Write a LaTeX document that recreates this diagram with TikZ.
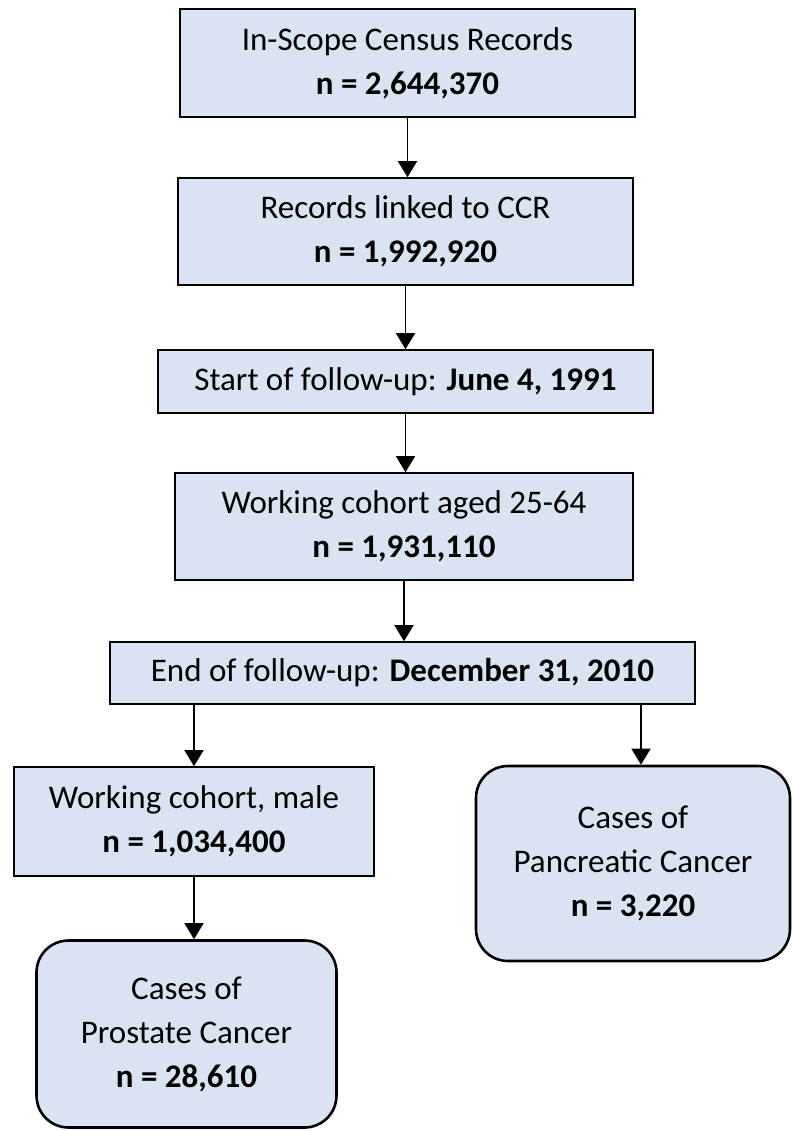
\documentclass[tikz,border=0pt]{standalone}
\usepackage{fontspec}
\setmainfont{Carlito}
\usetikzlibrary{arrows.meta}
\definecolor{boxfill}{RGB}{218,227,242}
\tikzset{
  box/.style={draw=black, line width=1.6pt, fill=boxfill, rectangle, align=center, inner sep=0pt,
    font=\fontsize{33}{44}\selectfont},
  rbox/.style={box, rounded corners=32pt, line width=2.6pt},
  arr/.style={line width=1.6pt, -{Triangle[length=16pt,width=19pt]}}
}
\begin{document}
\begin{tikzpicture}[x=1pt,y=-1pt]
\useasboundingbox (0,0) rectangle (794,1131);
\node[box, minimum width=455pt, minimum height=108pt] (b1) at (407.5,63) {In-Scope Census Records\\\textbf{n = 2,644,370}};
\node[box, minimum width=455pt, minimum height=107pt] (b2) at (405.5,231.5) {Records linked to CCR\\\textbf{n = 1,992,920}};
\node[box, minimum width=495pt, minimum height=63pt] (b3) at (405.5,381.5) {Start of follow-up: \textbf{June 4, 1991}};
\node[box, minimum width=458pt, minimum height=107pt] (b4) at (404,526.5) {Working cohort aged 25-64\\\textbf{n = 1,931,110}};
\node[box, minimum width=585pt, minimum height=62pt] (b5) at (402.5,673) {End of follow-up: \textbf{December 31, 2010}};
\node[box, minimum width=360pt, minimum height=109pt] (b6) at (194,821.5) {Working cohort, male\\\textbf{n = 1,034,400}};
\node[rbox, minimum width=314pt, minimum height=195pt] (b7) at (633,863.5) {Cases of\\Pancreatic Cancer\\\textbf{n = 3,220}};
\node[rbox, minimum width=300pt, minimum height=187pt] (b8) at (186.5,1034) {Cases of\\Prostate Cancer\\\textbf{n = 28,610}};
\draw[arr] (b1.south) -- (b1.south |- b2.north);
\draw[arr] (b2.south) -- (b2.south |- b3.north);
\draw[arr] (b3.south) -- (b3.south |- b4.north);
\draw[arr] (b4.south) -- (b4.south |- b5.north);
\draw[arr] (b6.north |- b5.south) -- (b6.north);
\coordinate (t7) at ([xshift=8pt]b7.north);
\draw[arr] (t7 |- b5.south) -- (t7);
\draw[arr] (b6.south) -- (b6.south |- b8.north);
\end{tikzpicture}
\end{document}
